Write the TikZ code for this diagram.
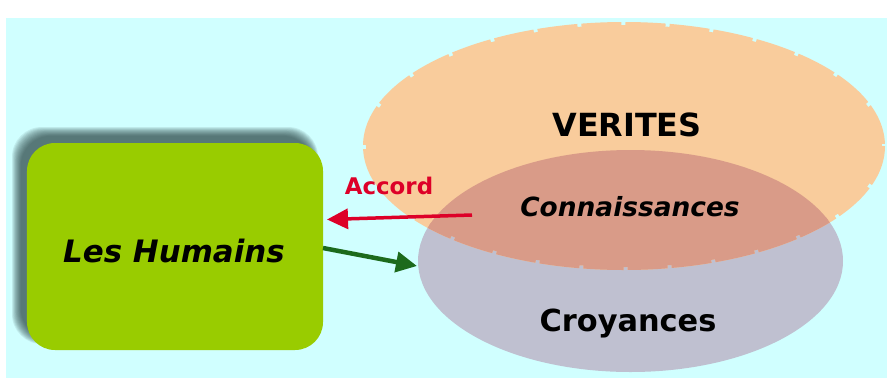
\documentclass[tikz,border=0pt]{standalone}
\usepackage{fontspec}
\setmainfont{DejaVu Sans}
\usetikzlibrary{arrows.meta,shapes.geometric}
\definecolor{bgcyan}{RGB}{208,255,255}
\definecolor{vercol}{RGB}{249,204,156}
\definecolor{croycol}{RGB}{191,192,208}
\definecolor{overcol}{RGB}{217,155,136}
\definecolor{humgreen}{RGB}{153,204,0}
\definecolor{accred}{RGB}{221,0,40}
\definecolor{darkgr}{RGB}{28,106,28}
\definecolor{shadowcol}{RGB}{35,60,60}
\tikzset{
  jagged/.style={line width=6bp, dash pattern=on 40bp off 4bp},
  lbl/.style={inner sep=0pt, anchor=base},
  arr/.style={-{Triangle[length=21bp,width=20bp]}},
}
\begin{document}
\begin{tikzpicture}[x=1bp,y=-1bp]
\useasboundingbox (0,0) rectangle (887,381);
\fill[white] (0,0) rectangle (887,381);
\fill[bgcyan] (6,18) rectangle (887,378);
% ellipses
\fill[croycol] (630.5,261) ellipse [x radius=212.5, y radius=111];
\fill[vercol] (624,146) ellipse [x radius=258, y radius=121];
\draw[vercol, jagged] (624,146) ellipse [x radius=258, y radius=121];
\begin{scope}
  \clip (630.5,261) ellipse [x radius=212.5, y radius=111];
  \fill[overcol] (624,146) ellipse [x radius=258, y radius=121];
  \draw[overcol, jagged] (624,146) ellipse [x radius=258, y radius=121];
\end{scope}
% shadow of box (soft)
\foreach \k in {0,...,11}{
  \fill[shadowcol, opacity=0.09, rounded corners=30bp]
    (12+\k*0.8,127+\k*0.8) rectangle (318-\k*0.5,344-\k*0.5);
}
\node[fill=humgreen, rounded corners=28bp, minimum width=296bp, minimum height=207bp,
      inner sep=0pt] (hum) at (175,246.5) {};
% labels
\node[lbl, font=\bfseries\itshape\fontsize{31}{34}\selectfont] (les) at (174,262) {Les Humains};
\node[lbl, font=\bfseries\fontsize{32}{34}\selectfont] (ver) at (627,136) {VERITES};
\node[lbl, font=\bfseries\itshape\fontsize{26.5}{30}\selectfont] (con) at (630,216) {Connaissances};
\node[lbl, font=\bfseries\fontsize{30.5}{34}\selectfont] (cro) at (628,331) {Croyances};
\node[lbl, text=accred, font=\bfseries\fontsize{23}{26}\selectfont] (acc) at (389,194) {Accord};
% arrows
\coordinate (rs) at (472,215);
\coordinate (re) at (327,219.5);
\coordinate (gs) at (323,248);
\coordinate (ge) at (417,266);
\draw[arr, accred, line width=3.5bp] (rs) -- (re);
\draw[arr, darkgr, line width=4.5bp] (gs) -- (ge);
\end{tikzpicture}
\end{document}
